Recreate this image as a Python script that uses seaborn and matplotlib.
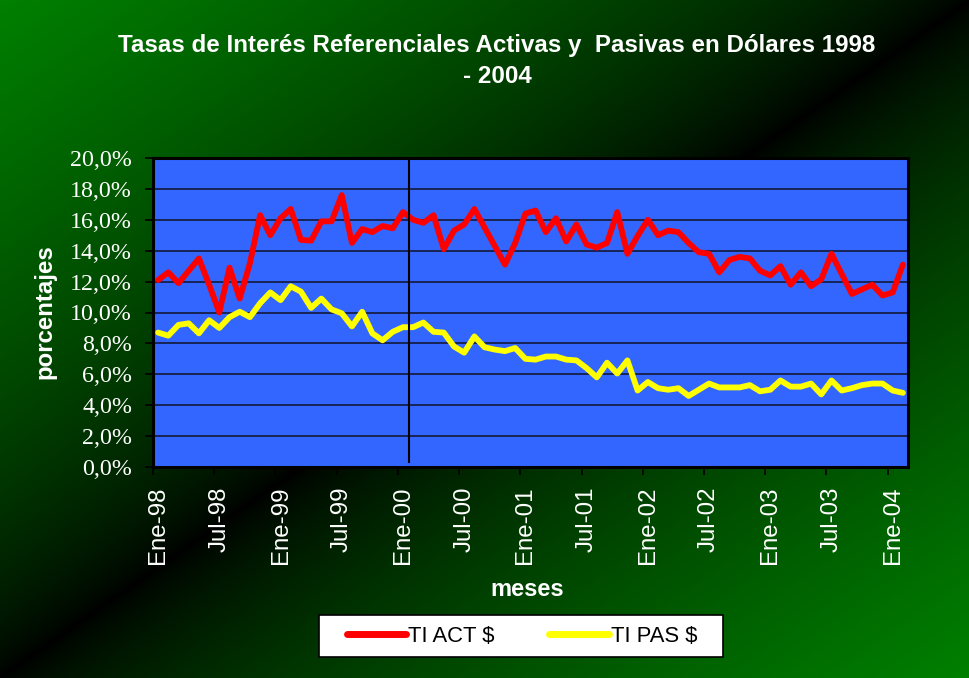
import numpy as np
import pandas as pd
import matplotlib
matplotlib.use("Agg")
import matplotlib.pyplot as plt
import seaborn as sns
from matplotlib.ticker import FuncFormatter, FixedLocator
from matplotlib.patches import Rectangle

# Datos: tasas mensuales Ene-98 a Feb-04
ti_act = [12.1, 12.6, 11.9, 12.7, 13.5, 11.8, 10.0, 12.9, 10.9, 13.2,
          16.3, 15.0, 16.1, 16.7, 14.7, 14.65, 15.9, 15.9, 17.6, 14.5,
          15.4, 15.2, 15.6, 15.45, 16.5, 16.0, 15.8, 16.3, 14.1, 15.3,
          15.7, 16.7, 15.5, 14.3, 13.1, 14.5, 16.4, 16.6, 15.2, 16.1,
          14.6, 15.7, 14.4, 14.2, 14.5, 16.5, 13.8, 14.95, 16.0, 15.0,
          15.3, 15.2, 14.5, 13.9, 13.8, 12.6, 13.4, 13.6, 13.5, 12.7,
          12.4, 13.0, 11.8, 12.6, 11.7, 12.15, 13.8, 12.5, 11.2, 11.5,
          11.8, 11.1, 11.3, 13.1]
ti_pas = [8.7, 8.5, 9.2, 9.3, 8.65, 9.5, 9.0, 9.7, 10.05, 9.7,
          10.6, 11.3, 10.8, 11.7, 11.35, 10.3, 10.9, 10.2, 9.95, 9.1,
          10.05, 8.65, 8.2, 8.75, 9.05, 9.05, 9.35, 8.75, 8.7, 7.8,
          7.4, 8.45, 7.75, 7.6, 7.5, 7.7, 7.0, 6.95, 7.15, 7.15,
          6.95, 6.9, 6.4, 5.8, 6.75, 6.05, 6.9, 4.95, 5.5, 5.1,
          5.0, 5.1, 4.6, 5.0, 5.4, 5.15, 5.15, 5.15, 5.3, 4.9,
          5.0, 5.6, 5.2, 5.2, 5.4, 4.7, 5.6, 4.95, 5.1, 5.3,
          5.4, 5.4, 4.95, 4.8]
etiquetas = ['Ene-98', 'Jul-98', 'Ene-99', 'Jul-99', 'Ene-00', 'Jul-00', 'Ene-01',
             'Jul-01', 'Ene-02', 'Jul-02', 'Ene-03', 'Jul-03', 'Ene-04']
series = ['TI ACT $', 'TI PAS $']

n = len(ti_act)
df = pd.DataFrame({'mes': list(range(n)) * 2,
                   'tasa': ti_act + ti_pas,
                   'serie': [series[0]] * n + [series[1]] * n})

W, H = 970, 678
fig = plt.figure(figsize=(W / 100, H / 100), dpi=100)

# fondo degradado verde-negro-verde en diagonal
bg = fig.add_axes([0, 0, 1, 1], zorder=0)
u = np.linspace(0, 1, W)[None, :]
v = np.linspace(0, 1, H)[:, None]
d = np.abs(u + v - 1)
img = np.zeros((H, W, 3))
img[..., 1] = d ** 0.7 * 128 / 255
bg.imshow(img, aspect='auto', extent=[0, 1, 0, 1])
bg.axis('off')

ax = fig.add_axes([153 / W, 1 - 467 / H, (908 - 153) / W, (467 - 158) / H], zorder=1)
ax.set_facecolor('#3366ff')

sns.lineplot(data=df, x='mes', y='tasa', hue='serie', palette=['#ff0000', '#ffff00'],
             linewidth=4.2, ax=ax, legend=False, solid_joinstyle='round', solid_capstyle='round')

ax.plot([24.55, 24.55], [0.3, 20], color='black', lw=1.5, zorder=3)

ax.set_xlim(-0.5, n - 0.5)
ax.set_ylim(0, 20)
ax.set_yticks(np.arange(0, 20.1, 2))
ax.yaxis.set_major_formatter(FuncFormatter(lambda y, p: f"{y:.1f}%".replace('.', ',')))
ax.grid(axis='y', color='#141e46', lw=1.3)
ax.grid(axis='x', visible=False)
ax.set_axisbelow(True)

ax.xaxis.set_major_locator(FixedLocator(list(range(0, n, 6))))
ax.set_xticklabels(etiquetas)
ax.xaxis.set_minor_locator(FixedLocator([i - 0.5 for i in range(0, n, 6)]))
ax.tick_params(axis='x', which='major', length=0, pad=14, rotation=90, colors='white', labelsize=17.3)
ax.tick_params(axis='x', which='minor', length=6, width=1.2, color='black', direction='out')
ax.tick_params(axis='y', length=6, width=1.2, color='black', pad=9, colors='white', labelsize=17.3)
for lab in ax.get_yticklabels():
    lab.set_family('Liberation Serif')
    lab.set_color('white')
for lab in ax.get_xticklabels():
    lab.set_family('Liberation Sans')
    lab.set_color('white')
ax.tick_params(axis='both', which='both', color='black')

for s in ax.spines.values():
    s.set_color('black')
    s.set_linewidth(2.2)

ax.set_xlabel('')
ax.set_ylabel('')
fig.text(527 / W, 1 - 590 / H, 'meses', ha='center', va='center', color='white',
         fontsize=17, fontweight='bold', family='Liberation Sans')
fig.text(45 / W, 1 - 312 / H, 'porcentajes', ha='center', va='center', rotation=90,
         color='white', fontsize=17.3, fontweight='bold', family='Liberation Sans')
fig.text(497 / W, 1 - 61 / H,
         'Tasas de Interés Referenciales Activas y  Pasivas en Dólares 1998\n- 2004',
         ha='center', va='center', color='white', fontsize=17.4, fontweight='bold',
         family='Liberation Sans', linespacing=1.4)

# caja de la leyenda
fig.patches.append(Rectangle((319 / W, 1 - 657 / H), (723 - 319) / W, 42 / H,
                             transform=fig.transFigure, facecolor='white',
                             edgecolor='black', lw=1.2, zorder=4))
handles = [plt.Line2D([], [], color='#ff0000', lw=5, solid_capstyle='round'),
           plt.Line2D([], [], color='#ffff00', lw=5, solid_capstyle='round')]
leg = fig.legend(handles, series, loc='center', bbox_to_anchor=(522 / W, 1 - 636 / H),
                 ncol=2, frameon=False, prop={'family': 'Liberation Sans', 'size': 15.8},
                 handlelength=2.7, handletextpad=0.1, columnspacing=2.5,
                 borderpad=0.3, borderaxespad=0)
leg.set_zorder(5)

fig.savefig('out.png', dpi=100)
